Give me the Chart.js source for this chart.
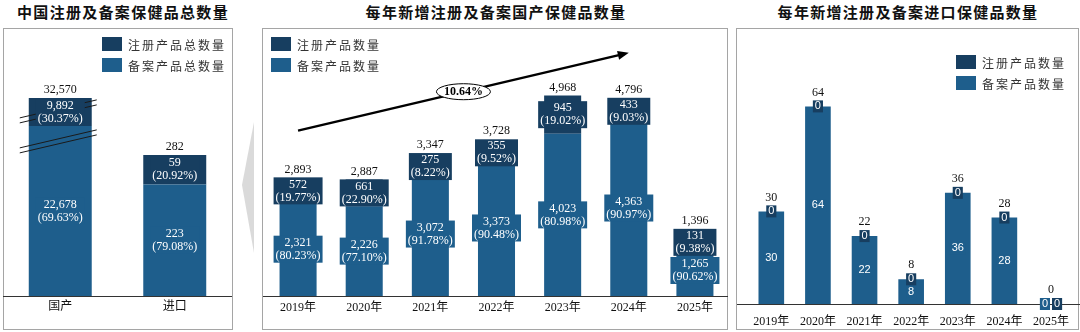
<!DOCTYPE html>
<html>
<head>
<meta charset="utf-8">
<script src="https://cdn.jsdelivr.net/npm/chart.js@4/dist/chart.umd.min.js"></script>
<style>
  body { margin: 0; width: 1080px; height: 332px; position: relative; overflow: hidden; background: #fff;
         font-family: "Noto Sans CJK SC", sans-serif; }
  .box { position: absolute; top: 28px; height: 302px; border: 1.5px solid #a5a5a5; box-sizing: border-box; }
  .title { position: absolute; top: 1px; transform: translateX(-50%); white-space: nowrap;
           font-size: 15px; font-weight: 700; letter-spacing: 1.3px; line-height: 22px; color: #111; }
  .lg { position: absolute; display: flex; align-items: center; height: 14px; }
  .lg i { display: inline-block; width: 20px; height: 14px; margin-right: 6px; }
  .lg span { font-size: 12px; letter-spacing: 2px; color: #333; white-space: nowrap; }
  .chev { position: absolute; left: 242px; top: 122px; width: 12px; height: 131px; background: #dadada;
          clip-path: polygon(100% 0, 0 48%, 100% 100%); }
  canvas { position: absolute; }
</style>
</head>
<body>
<div class="box" style="left:3px;width:230px"></div>
<div class="box" style="left:262px;width:466px"></div>
<div class="box" style="left:736px;width:343px"></div>
<div class="chev"></div>

<div class="title" style="left:123px">中国注册及备案保健品总数量</div>
<div class="title" style="left:496px">每年新增注册及备案国产保健品数量</div>
<div class="title" style="left:908px">每年新增注册及备案进口保健品数量</div>

<canvas id="c1" width="229" height="298" style="left:3px;top:30px"></canvas>
<canvas id="c2" width="465" height="298" style="left:263px;top:30px"></canvas>
<canvas id="c3" width="343" height="312" style="left:737px;top:30px"></canvas>

<script>
// ---------- Data ----------
const totalCats = ["国产", "进口"];
const totalRegistered = [9892, 59];
const totalFiled = [22678, 223];

const years = ["2019年", "2020年", "2021年", "2022年", "2023年", "2024年", "2025年"];
const domesticRegistered = [572, 661, 275, 355, 945, 433, 131];
const domesticFiled = [2321, 2226, 3072, 3373, 4023, 4363, 1265];

const importRegistered = [0, 0, 0, 0, 0, 0, 0];
const importFiled = [30, 64, 22, 8, 36, 28, 0];

const growthRate = "10.64%";

const REG_COLOR = "#173e60";
const FILE_COLOR = "#1e5e8c";

// ---------- Legends (html) ----------
function addLegend(left, top, names) {
  const colors = [REG_COLOR, FILE_COLOR];
  names.forEach((name, i) => {
    const d = document.createElement("div");
    d.className = "lg";
    d.style.left = left + "px";
    d.style.top = (top + i * 21) + "px";
    d.innerHTML = `<i style="background:${colors[i]}"></i><span>${name}</span>`;
    document.body.appendChild(d);
  });
}
addLegend(102, 37, ["注册产品总数量", "备案产品总数量"]);
addLegend(271, 37, ["注册产品数量", "备案产品数量"]);
addLegend(956, 55, ["注册产品数量", "备案产品数量"]);

// ---------- Helpers ----------
const fmt = (v) => v.toLocaleString("en-US");
const SERIF = '"Liberation Serif", "Times New Roman", serif';

// broken axis for the totals chart (value knots -> relative height)
const BREAK_IN = [0, 300, 20000, 35000];
const BREAK_OUT = [0, 150, 162.5, 205];

function interp(v, xs, ys) {
  if (v <= xs[0]) return ys[0];
  for (let i = 1; i < xs.length; i++) {
    if (v <= xs[i]) return ys[i - 1] + (v - xs[i - 1]) / (xs[i] - xs[i - 1]) * (ys[i] - ys[i - 1]);
  }
  return ys[ys.length - 1];
}

class BrokenScale extends Chart.LinearScale {
  getPixelForValue(value) {
    return this.getPixelForDecimal(interp(value, BREAK_IN, BREAK_OUT) / BREAK_OUT[BREAK_OUT.length - 1]);
  }
}
BrokenScale.id = "broken";
BrokenScale.defaults = {};
Chart.register(BrokenScale);

// value (+ share) boxes on each segment, total above the stack
const segLabels = {
  id: "segLabels",
  afterDatasetsDraw(chart, args, o) {
    const ctx = chart.ctx;
    const sets = chart.data.datasets;
    const metas = sets.map((d, i) => chart.getDatasetMeta(i));
    ctx.save();
    ctx.textAlign = "center";
    ctx.textBaseline = "middle";
    chart.data.labels.forEach((lab, i) => {
      const vals = sets.map((d) => d.data[i]);
      const total = vals.reduce((a, b) => a + b, 0);
      let top = Infinity;
      metas.forEach((m, di) => {
        const bar = m.data[i];
        const v = vals[di];
        const lines = o.pct
          ? [fmt(v), "(" + (total ? (v / total * 100).toFixed(2) : "0.00") + "%)"]
          : [fmt(v)];
        ctx.font = o.font;
        const w = Math.max(...lines.map((t) => ctx.measureText(t).width)) + 4;
        const h = lines.length * o.lineHeight + 1;
        let cx = bar.x;
        const cy = (bar.y + bar.base) / 2;
        if (total === 0) cx += (di === 0 ? -1 : 1) * (w / 2 + 1);
        ctx.fillStyle = sets[di].backgroundColor;
        ctx.fillRect(cx - w / 2, cy - h / 2, w, h);
        ctx.fillStyle = "#fff";
        lines.forEach((t, k) => ctx.fillText(t, cx, cy - h / 2 + 0.5 + o.lineHeight * (k + 0.5)));
        top = Math.min(top, cy - h / 2, bar.y);
      });
      ctx.font = o.totalFont;
      ctx.fillStyle = "#111";
      ctx.fillText(fmt(total), metas[0].data[i].x, top - 8);
    });
    ctx.restore();
  },
};

// axis line across the whole panel
const baseLine = {
  id: "baseLine",
  afterDatasetsDraw(chart) {
    const ctx = chart.ctx;
    const y = Math.round(chart.chartArea.bottom) + 0.5;
    ctx.save();
    ctx.strokeStyle = "#333";
    ctx.lineWidth = 1;
    ctx.beginPath();
    ctx.moveTo(0, y);
    ctx.lineTo(chart.width, y);
    ctx.stroke();
    ctx.restore();
  },
};

// double slashes on the broken "国产" bar
const breakMarks = {
  id: "breakMarks",
  afterDatasetsDraw(chart) {
    const ctx = chart.ctx;
    const bar = chart.getDatasetMeta(1).data[0];
    const x0 = bar.x - bar.width / 2 - 9;
    const x1 = bar.x + bar.width / 2 + 5;
    ctx.save();
    ctx.strokeStyle = "#1a1a1a";
    ctx.lineWidth = 1;
    [11, 41].forEach((off) => {
      const ym = bar.y + off;
      [0, 5].forEach((gap) => {
        ctx.beginPath();
        ctx.moveTo(x0, ym + 9 + gap);
        ctx.lineTo(x1, ym - 9 + gap);
        ctx.stroke();
      });
    });
    ctx.restore();
  },
};

// growth arrow with rate in an ellipse
const growthArrow = {
  id: "growthArrow",
  afterDatasetsDraw(chart) {
    const ctx = chart.ctx;
    const xs = chart.scales.x, ys = chart.scales.y;
    const p0 = { x: xs.getPixelForValue(0), y: ys.getPixelForValue(4100) };
    const p1 = { x: xs.getPixelForValue(5), y: ys.getPixelForValue(6030) };
    const ang = Math.atan2(p1.y - p0.y, p1.x - p0.x);
    ctx.save();
    ctx.strokeStyle = "#000";
    ctx.fillStyle = "#000";
    ctx.lineWidth = 2.5;
    ctx.beginPath();
    ctx.moveTo(p0.x, p0.y);
    ctx.lineTo(p1.x - 8 * Math.cos(ang), p1.y - 8 * Math.sin(ang));
    ctx.stroke();
    ctx.beginPath();
    ctx.moveTo(p1.x, p1.y);
    ctx.lineTo(p1.x - 11 * Math.cos(ang) + 4.5 * Math.sin(ang), p1.y - 11 * Math.sin(ang) - 4.5 * Math.cos(ang));
    ctx.lineTo(p1.x - 11 * Math.cos(ang) - 4.5 * Math.sin(ang), p1.y - 11 * Math.sin(ang) + 4.5 * Math.cos(ang));
    ctx.closePath();
    ctx.fill();
    const mx = (p0.x + p1.x) / 2, my = (p0.y + p1.y) / 2;
    ctx.beginPath();
    ctx.ellipse(mx, my, 27, 8, 0, 0, Math.PI * 2);
    ctx.fillStyle = "#fff";
    ctx.fill();
    ctx.lineWidth = 1;
    ctx.stroke();
    ctx.fillStyle = "#000";
    ctx.font = "bold 12px " + SERIF;
    ctx.textAlign = "center";
    ctx.textBaseline = "middle";
    ctx.fillText(growthRate, mx, my + 0.5);
    ctx.restore();
  },
};

function makeChart(id, labels, filed, registered, cfg) {
  return new Chart(document.getElementById(id), {
    type: "bar",
    data: {
      labels: labels,
      datasets: [
        { label: "备案", data: filed, backgroundColor: FILE_COLOR },
        { label: "注册", data: registered, backgroundColor: REG_COLOR },
      ],
    },
    options: {
      responsive: false,
      animation: false,
      devicePixelRatio: 1,
      events: [],
      categoryPercentage: 1,
      barPercentage: cfg.barPct,
      layout: { padding: cfg.padding },
      scales: {
        x: {
          stacked: true,
          grid: { display: false, drawTicks: false },
          border: { display: false },
          ticks: { padding: cfg.tickPad, color: "#111", font: { family: SERIF + ', "Noto Sans CJK SC"', size: 12 } },
        },
        y: Object.assign({ stacked: true, display: false, min: 0 }, cfg.y),
      },
      plugins: {
        legend: { display: false },
        tooltip: { enabled: false },
        segLabels: cfg.labels,
      },
    },
    plugins: cfg.plugins,
  });
}

makeChart("c1", totalCats, totalFiled, totalRegistered, {
  barPct: 0.55,
  padding: { top: 61, left: 0, right: 0, bottom: 9.6 },
  tickPad: 4,
  y: { type: "broken", max: 35000 },
  labels: { pct: true, font: "12px " + SERIF, lineHeight: 13, totalFont: "12px " + SERIF },
  plugins: [baseLine, breakMarks, segLabels],
});

makeChart("c2", years, domesticFiled, domesticRegistered, {
  barPct: 0.56,
  padding: { top: 24, left: 2, right: 0, bottom: 7.6 },
  tickPad: 5,
  y: { max: 6000 },
  labels: { pct: true, font: "12px " + SERIF, lineHeight: 13, totalFont: "12px " + SERIF },
  plugins: [baseLine, segLabels, growthArrow],
});

makeChart("c3", years, importFiled, importRegistered, {
  barPct: 0.55,
  padding: { top: 27, left: 11, right: 0, bottom: 1.6 },
  tickPad: 11,
  y: { max: 80 },
  labels: { pct: false, font: '11px "Liberation Sans", sans-serif', lineHeight: 11, totalFont: "12px " + SERIF },
  plugins: [baseLine, segLabels],
});
</script>
</body>
</html>
